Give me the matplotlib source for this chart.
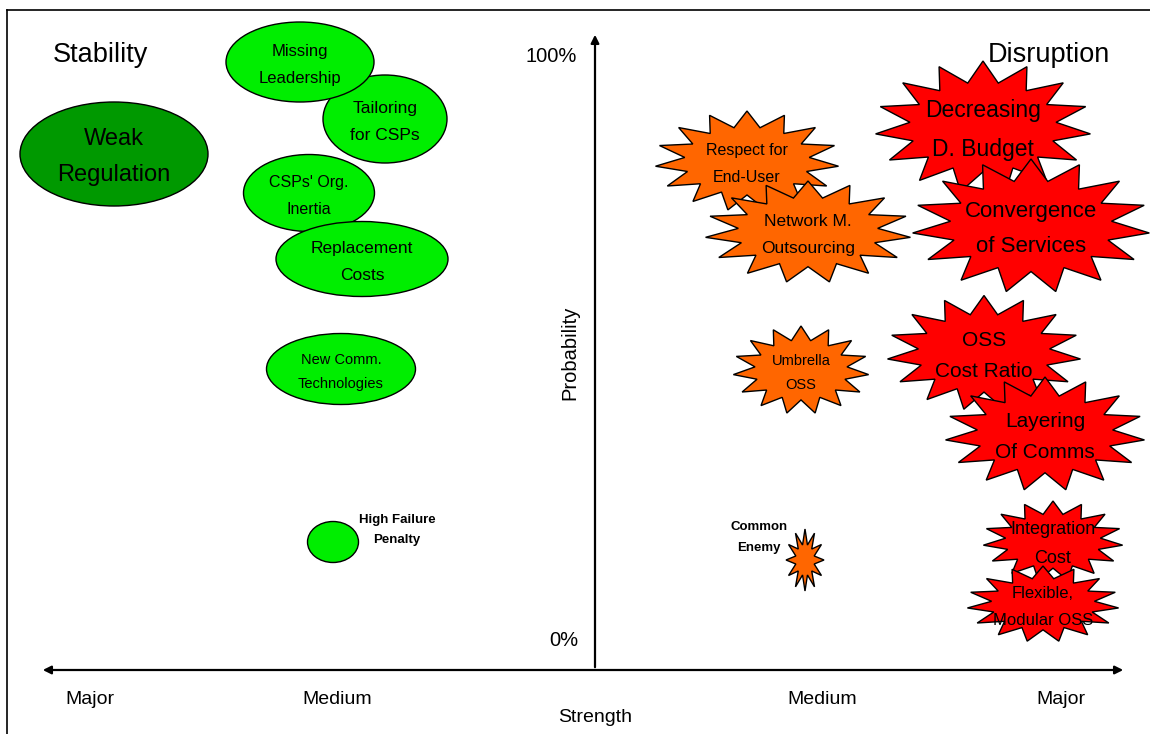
import numpy as np
import matplotlib
matplotlib.use('Agg')
import matplotlib.pyplot as plt
from matplotlib.patches import Ellipse, Polygon

plt.rcParams['font.family'] = ['Liberation Sans', 'DejaVu Sans']

# stability factors (green ellipses), in drawing order
green_labels = ['Tailoring\nfor CSPs', 'Missing\nLeadership', 'Weak\nRegulation',
                "CSPs' Org.\nInertia", 'Replacement\nCosts', 'New Comm.\nTechnologies', '']
green_x = [385, 300, 114, 309, 362, 341, 333]
green_y = [119, 62, 154, 193, 259, 369, 542]
green_w = [124, 148, 188, 131, 172, 149, 51]
green_h = [88, 80, 104, 77, 75, 71, 41]
green_fs = [12.5, 12, 17, 11.5, 12.5, 10.5, 10]
green_col = ['#00ee00', '#00ee00', '#009900', '#00ee00', '#00ee00', '#00ee00', '#00ee00']

# disruption factors (starbursts), in drawing order
star_labels = ['Respect for\nEnd-User', 'Network M.\nOutsourcing', 'Umbrella\nOSS', '',
               'Decreasing\nD. Budget', 'Convergence\nof Services', 'OSS\nCost Ratio',
               'Layering\nOf Comms', 'Integration\nCost', 'Flexible,\nModular OSS']
star_x = [747, 808, 801, 805, 983, 1031, 984, 1045, 1053, 1043]
star_y = [161, 232, 370, 560, 127, 226, 353, 434, 541, 604]
star_w = [184, 206, 136, 38, 216, 238, 194, 200, 140, 152]
star_h = [100, 102, 88, 62, 132, 134, 115, 114, 80, 76]
star_fs = [11.5, 12.5, 10.5, 9, 16.5, 16, 15, 15, 13, 12]
star_col = ['#ff6600', '#ff6600', '#ff6600', '#ff6600', '#ff0000', '#ff0000',
            '#ff0000', '#ff0000', '#ff0000', '#ff0000']
star_n = [15, 15, 15, 12, 15, 15, 15, 15, 15, 15]

side_labels = ['High Failure\nPenalty', 'Common\nEnemy']
side_x = [397, 759]
side_y = [530, 537]

strength_ticks = ['Major', 'Medium', 'Medium', 'Major']
strength_pos = [90, 337, 822, 1061]


def star(cx, cy, w, h, n, inner=0.7):
    ang = np.linspace(0, 2 * np.pi, 2 * n, endpoint=False) + np.pi / 2
    r = np.where(np.arange(2 * n) % 2 == 0, 1.0, inner)
    return np.column_stack([cx + w / 2 * r * np.cos(ang), cy - h / 2 * r * np.sin(ang)])


fig = plt.figure(figsize=(11.5, 7.34), dpi=100)
ax = fig.add_axes([0, 0, 1, 1])
ax.set_xlim(0, 1150)
ax.set_ylim(734, 0)
ax.axis('off')

# frame
ax.plot([7, 1150], [10, 10], color='black', lw=1.2)
ax.plot([7, 7], [10, 734], color='black', lw=1.2)

# axes arrows
ax.annotate('', xy=(40, 670), xytext=(1126, 670),
            arrowprops=dict(arrowstyle='<|-|>', lw=1.6, color='black', mutation_scale=12))
ax.annotate('', xy=(595, 32), xytext=(595, 670),
            arrowprops=dict(arrowstyle='-|>', lw=1.6, color='black', mutation_scale=12))

for i in range(len(green_labels)):
    e = Ellipse((green_x[i], green_y[i]), green_w[i], green_h[i],
                facecolor=green_col[i], edgecolor='black', lw=1.0, zorder=3)
    ax.add_patch(e)
    ax.text(green_x[i], green_y[i] + 3, green_labels[i], ha='center', va='center',
            fontsize=green_fs[i], linespacing=1.95 if green_fs[i] < 14 else 1.85, zorder=4)

for i in range(len(star_labels)):
    inner = 0.5 if star_w[i] < 50 else 0.68
    p = Polygon(star(star_x[i], star_y[i], star_w[i], star_h[i], star_n[i], inner),
                closed=True, facecolor=star_col[i], edgecolor='black', lw=1.0, zorder=3)
    ax.add_patch(p)
    ax.text(star_x[i], star_y[i] + 3, star_labels[i], ha='center', va='center',
            fontsize=star_fs[i], linespacing=1.95 if star_fs[i] < 14 else 1.85, zorder=4)

for i in range(len(side_labels)):
    ax.text(side_x[i], side_y[i], side_labels[i], ha='center', va='center',
            fontsize=9.5, fontweight='bold', linespacing=2.0, zorder=4)

ax.text(53, 55, 'Stability', fontsize=19.5, ha='left', va='center')
ax.text(1110, 55, 'Disruption', fontsize=19.5, ha='right', va='center', zorder=5)
ax.text(577, 57, '100%', fontsize=14.5, ha='right', va='center')
ax.text(578, 640, '0%', fontsize=14.5, ha='right', va='center')
ax.text(570, 353, 'Probability', fontsize=14.5, rotation=90, ha='center', va='center')
ax.text(595, 718, 'Strength', fontsize=14, ha='center', va='center')
for lab, px in zip(strength_ticks, strength_pos):
    ax.text(px, 699, lab, fontsize=14, ha='center', va='center')

fig.savefig('out.png', dpi=100)
